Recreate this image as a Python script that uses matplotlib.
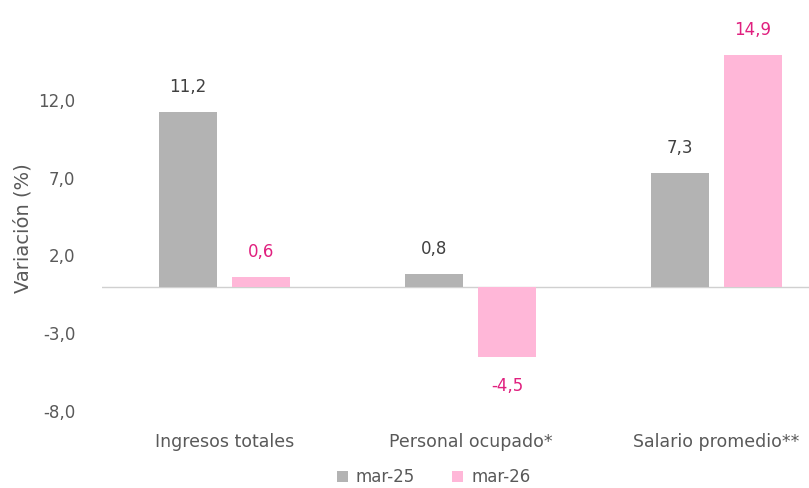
import matplotlib

matplotlib.use("Agg")
import matplotlib.pyplot as plt
import numpy as np

CATEGORIES = ["Ingresos totales", "Personal ocupado*", "Salario promedio**"]
SERIES_NAMES = ["mar-25", "mar-26"]
MAR_25 = [11.2, 0.8, 7.3]
MAR_26 = [0.6, -4.5, 14.9]
Y_TICKS = [-8.0, -3.0, 2.0, 7.0, 12.0]

GRAY = "#b3b3b3"
PINK = "#ffb7d8"
LABEL_PINK = "#e0207f"
TEXT = "#595959"

plt.rcParams["font.family"] = ["DejaVu Sans"]


def fmt(v: float) -> str:
    return f"{v:.1f}".replace(".", ",")


fig = plt.figure(figsize=(8.09, 4.88), dpi=100)
ax = fig.add_axes([0.1255, 0.1578, 0.9122, 0.7967])

x = np.arange(len(CATEGORIES))
width = 0.236
offset = 0.148
bars_a = ax.bar(x - offset, MAR_25, width, color=GRAY, label=SERIES_NAMES[0], zorder=2)
bars_b = ax.bar(x + offset, MAR_26, width, color=PINK, label=SERIES_NAMES[1], zorder=2)

for bars, values, col in ((bars_a, MAR_25, "#404040"), (bars_b, MAR_26, LABEL_PINK)):
    for bar, v in zip(bars, values):
        cx = bar.get_x() + bar.get_width() / 2
        dy = 18 if v >= 0 else -21
        ax.annotate(fmt(v), (cx, v), xytext=(0, dy), textcoords="offset points",
                    ha="center", va="center", color=col, fontsize=12)

ax.axhline(0, color="#d0d0d0", linewidth=1, zorder=1)
ax.set_xlim(-0.5, len(CATEGORIES) - 0.5)
ax.set_ylim(-8, 17)
ax.set_yticks(Y_TICKS)
ax.set_yticklabels([fmt(t) for t in Y_TICKS])
ax.set_xticks(x)
ax.set_xticklabels(CATEGORIES)
ax.tick_params(axis="both", length=0, colors=TEXT)
ax.tick_params(axis="y", labelsize=12, pad=19)
ax.tick_params(axis="x", labelsize=12.5, pad=16)
ax.set_ylabel("Variación (%)", color=TEXT, fontsize=14)
ax.yaxis.set_label_coords(-0.094, 0.47)
for spine in ax.spines.values():
    spine.set_visible(False)

fig.legend(loc="center", bbox_to_anchor=(433.5 / 809, 11 / 488), ncol=2, frameon=False,
           fontsize=12, labelcolor=TEXT, handlelength=0.66, handleheight=0.66,
           handletextpad=0.5, columnspacing=2.2, borderpad=0)

fig.savefig("out.png", dpi=100)
